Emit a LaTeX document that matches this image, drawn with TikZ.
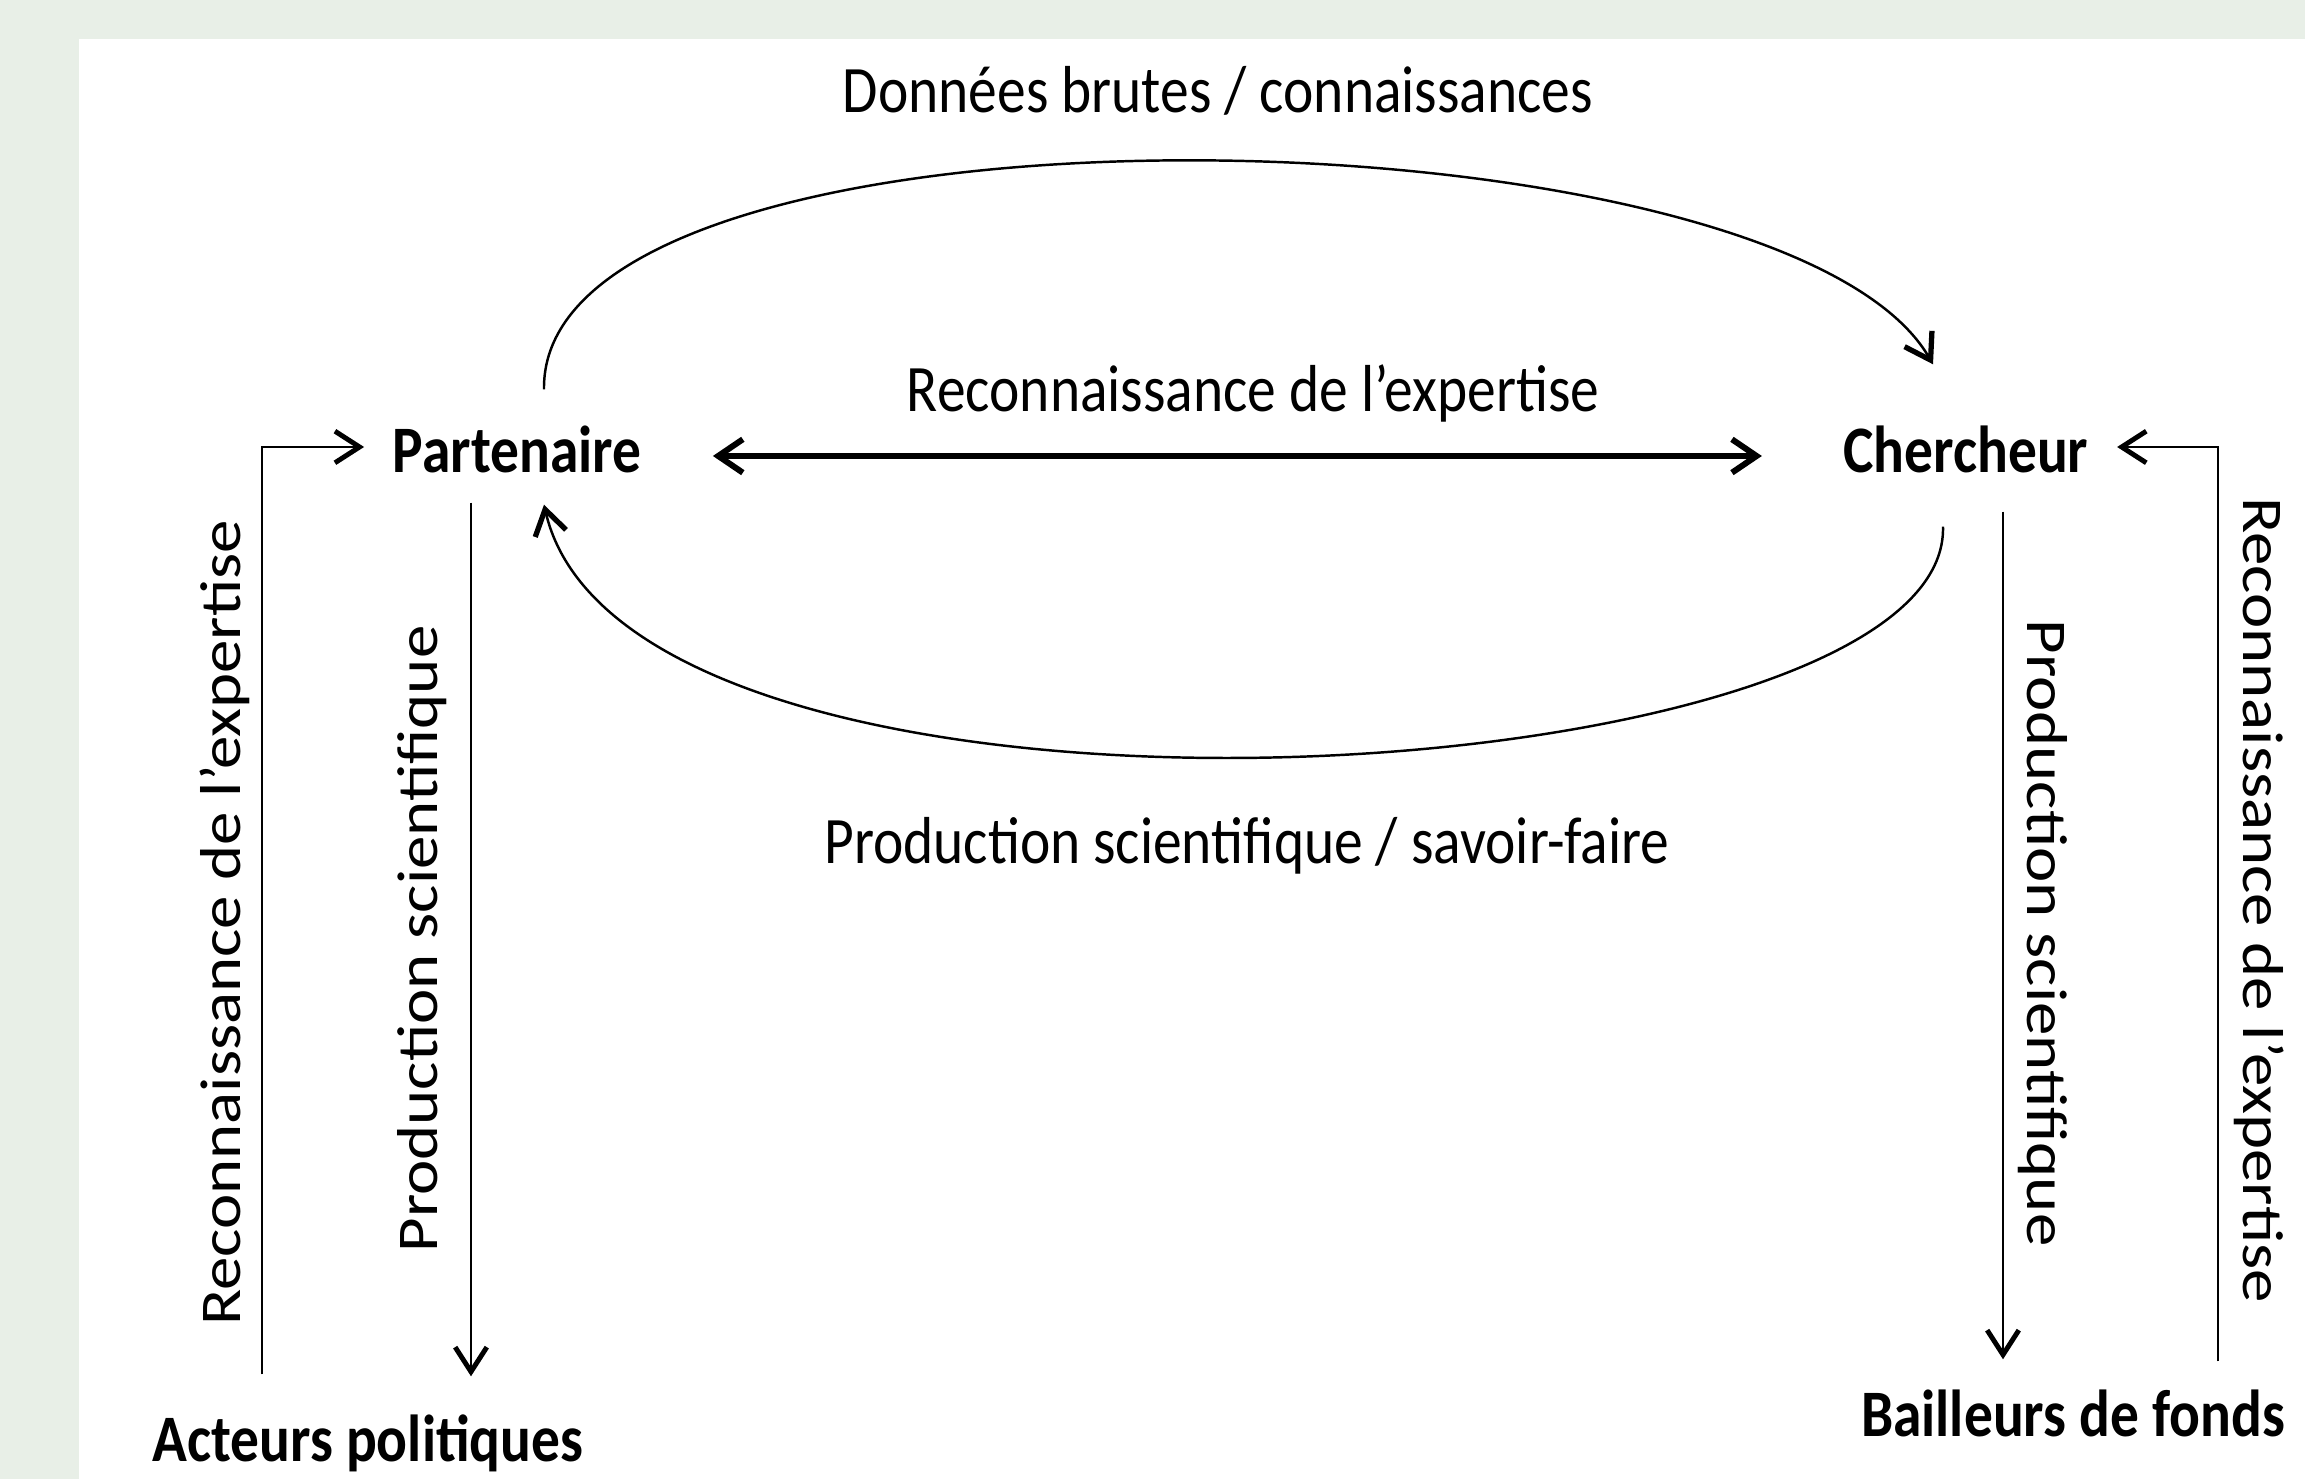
\documentclass[tikz,border=0pt]{standalone}
\usepackage{fontspec}
\usetikzlibrary{arrows.meta}
\setmainfont{Carlito}
\newfontfamily\hfont[FakeStretch=0.865]{Carlito}
\newfontfamily\vfont[FakeStretch=1.16]{Carlito}
\definecolor{cadre}{HTML}{E8EFE7}

\tikzset{
    acteur/.style={font=\hfont\fontsize{18.9}{22}\selectfont\bfseries, inner sep=0pt, text height=0.52cm, text depth=0pt},
    hlabel/.style={font=\hfont\fontsize{18.9}{22}\selectfont, inner sep=0pt, anchor=base},
    vlabel/.style={font=\vfont\fontsize{16.4}{20}\selectfont, inner sep=0pt, anchor=base},
    flux/.style={line width=0.6pt, -{Straight Barb[length=7pt, width=9pt, line width=1.4pt]}},
    courbe/.style={line width=0.7pt, -{Straight Barb[length=7pt, width=9pt, line width=1.5pt]}},
    echange/.style={line width=1.6pt, {Straight Barb[length=7pt, width=9.5pt, line width=1.7pt]}-{Straight Barb[length=7pt, width=9.5pt, line width=1.7pt]}}
}

\begin{document}
\begin{tikzpicture}
    \useasboundingbox (0,0) rectangle (23.05,-14.79);
    \fill[cadre] (0,0) rectangle (23.05,-14.79);
    \fill[white] (0.79,-0.39) rectangle (23.05,-14.79);

    \node (PART) [acteur] at (5.17, -4.47) {Partenaire};
    \node (CHER) [acteur] at (19.66, -4.47) {Chercheur};
    \node (AP) [acteur] at (3.68, -14.36) {Acteurs politiques};
    \node (BF) [acteur] at (20.73, -14.11) {Bailleurs de fonds};

    \node (DB) [hlabel] at (12.18, -1.13) {Données brutes / connaissances};
    \node (RE) [hlabel] at (12.53, -4.12) {Reconnaissance de l’expertise};
    \node (PS) [hlabel] at (12.47, -8.64) {Production scientifique / savoir-faire};

    \node (REG) [vlabel, rotate=90] at (2.40, -9.23) {Reconnaissance de l’expertise};
    \node (PSG) [vlabel, rotate=90] at (4.37, -9.39) {Production scientifique};
    \node (PSD) [vlabel, rotate=-90] at (20.27, -9.33) {Production scientifique};
    \node (RED) [vlabel, rotate=-90] at (22.43, -9.00) {Reconnaissance de l’expertise};

    \draw[courbe] ([xshift=0.27cm, yshift=0.31cm]PART.north) .. controls +(-0.04,3.10) and +(-1.53,2.65) .. ([xshift=-0.33cm, yshift=0.56cm]CHER.north);
    \draw[courbe] ([xshift=-0.23cm, yshift=-0.53cm]CHER.south) .. controls +(0.07,-2.70) and +(0.86,-3.72) .. ([xshift=0.27cm, yshift=-0.31cm]PART.south);
    \draw[echange] ([xshift=0.71cm, yshift=-0.09cm]PART.east) -- ([xshift=-0.81cm, yshift=-0.09cm]CHER.west);

    \draw[flux] ([xshift=1.10cm, yshift=0.35cm]AP.north west) |- ([xshift=-0.28cm]PART.west);
    \draw[flux] ([xshift=-0.46cm, yshift=-0.29cm]PART.south) -- ([xshift=1.03cm, yshift=0.33cm]AP.north);
    \draw[flux] ([xshift=0.37cm, yshift=-0.38cm]CHER.south) -- ([xshift=-0.70cm, yshift=0.25cm]BF.north);
    \draw[flux] ([xshift=-0.68cm, yshift=0.23cm]BF.north east) |- ([xshift=0.28cm]CHER.east);
\end{tikzpicture}
\end{document}
